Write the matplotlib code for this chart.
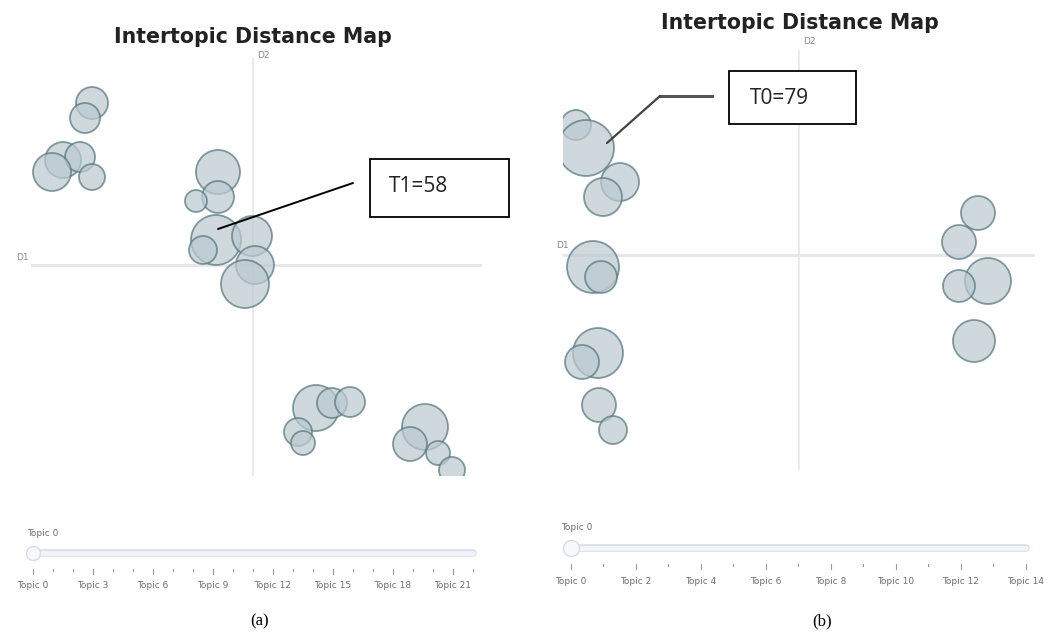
import matplotlib.pyplot as plt
from matplotlib.patches import Circle, Rectangle, ConnectionPatch

# topic positions (D1, D2) and bubble radius
a_x = [-8.05, -8.4, -9.5, -8.65, -10.05, -8.05, -1.75, -1.75, -2.85, -1.85, -0.05, -2.5,
       0.1, -0.4, 3.15, 3.95, 4.85, 2.25, 2.5, 8.6, 7.85, 9.25, 9.95]
a_y = [8.1, 7.35, 5.25, 5.4, 4.65, 4.4, 4.65, 3.4, 3.2, 1.25, 1.45, 0.75,
       0.0, -0.95, -7.15, -6.9, -6.85, -8.35, -8.9, -8.1, -8.95, -9.4, -10.25]
a_r = [0.8, 0.75, 0.9, 0.75, 0.95, 0.65, 1.1, 0.8, 0.55, 1.25, 1.0, 0.7,
       0.95, 1.2, 1.15, 0.75, 0.75, 0.7, 0.6, 1.15, 0.85, 0.6, 0.65]

b_x = [-11.15, -10.65, -8.95, -9.8, -10.3, -9.9, 8.95, 8.0, 9.45, 8.0, -10.05, -10.85, -10.0, -9.3, 8.75]
b_y = [6.5, 5.35, 3.65, 2.9, -0.6, -1.1, 2.1, 0.65, -1.3, -1.55, -4.9, -5.35, -7.5, -8.75, -4.3]
b_r = [0.75, 1.4, 0.95, 0.95, 1.3, 0.8, 0.85, 0.85, 1.15, 0.8, 1.25, 0.85, 0.85, 0.7, 1.05]

a_note, a_target = "T1=58", (-1.75, 1.8)
b_note, b_target = "T0=79", (-9.6, 5.6)

a_topics = list(range(23))
b_topics = list(range(15))

W, H = 1052, 639
fig = plt.figure(figsize=(W / 100, H / 100), dpi=100)
fig.patch.set_facecolor("white")

def px_axes(l, t, r, b):
    return fig.add_axes([l / W, 1 - b / H, (r - l) / W, (b - t) / H])

FACE, EDGE = "#BCC9D1", "#55777C"
GRID = "#E6E6E6"
LABEL = "#8a8a8a"

def bubbles(ax, xs, ys, rs, xlim, ylim):
    ax.set_xlim(*xlim)
    ax.set_ylim(*ylim)
    ax.axvline(0, color=GRID, lw=1.2, zorder=0)
    ax.axhline(0, color=GRID, lw=2, zorder=0)
    for x, y, r in zip(xs, ys, rs):
        c = Circle((x, y), r, facecolor=FACE, edgecolor=EDGE, lw=1.3, alpha=0.72)
        ax.add_patch(c)
        c.set_clip_on(True)
    ax.axis("off")

# panel (a) and (b) maps
axa = px_axes(31, 58, 482, 476)
bubbles(axa, a_x, a_y, a_r, (-11.1, 11.45), (-10.55, 10.35))
axb = px_axes(563, 50, 1035, 470)
bubbles(axb, b_x, b_y, b_r, (-11.8, 11.8), (-10.75, 10.25))

over = fig.add_axes([0, 0, 1, 1], zorder=10)
over.set_xlim(0, W)
over.set_ylim(H, 0)
over.axis("off")

# titles and axis names
for cx, cy in [(253, 37), (800, 23)]:
    over.text(cx, cy, "Intertopic Distance Map", ha="center", va="center",
              fontsize=14.8, fontweight="bold", color="#222222")
over.text(263, 55, "D2", ha="center", va="center", fontsize=6.5, color=LABEL)
over.text(22, 257, "D1", ha="center", va="center", fontsize=6.5, color=LABEL)
over.text(809, 42, "D2", ha="center", va="center", fontsize=6.5, color=LABEL)
over.text(562, 246, "D1", ha="center", va="center", fontsize=6.5, color=LABEL)

# annotation boxes
over.add_patch(Rectangle((370, 159), 139, 58, facecolor="white", edgecolor="black", lw=1.3))
over.text(389, 186, a_note, ha="left", va="center", fontsize=15, color="#222222", family="Open Sans")
fig.add_artist(ConnectionPatch(xyA=a_target, coordsA=axa.transData, xyB=(353, 183),
                               coordsB=over.transData, color="black", lw=1.4, zorder=11))

over.add_patch(Rectangle((729, 71), 127, 53, facecolor="white", edgecolor="black", lw=1.3))
over.text(750, 98, b_note, ha="left", va="center", fontsize=15, color="#222222", family="Open Sans")
fig.add_artist(ConnectionPatch(xyA=b_target, coordsA=axb.transData, xyB=(660, 96),
                               coordsB=over.transData, color="#444444", lw=1.6, zorder=11))
over.plot([660, 712], [96, 96], color="#555555", lw=2.2)

# sliders
def slider(left, right, unit, topics, step, track_y, knob_r, label_y):
    ax = px_axes(left, track_y - 30, right, track_y + 45)
    ax.set_xlim(-1, -1 + (right - left) / unit)
    ax.set_ylim(track_y + 45, track_y - 30)
    ax.axis("off")
    ax.plot([topics[0], topics[-1]], [track_y, track_y], color="#D9DFEA", lw=5.5,
            solid_capstyle="round")
    ax.plot([topics[0], topics[-1]], [track_y, track_y], color="#F1F3F8", lw=3.5,
            solid_capstyle="round")
    ax.plot(topics[0], track_y, "o", ms=knob_r * 2 * 0.72, mfc="#F6F8FC", mec="#D6DCE8", mew=1)
    ax.text(topics[0] - 0.3, label_y, "Topic 0", ha="left", va="center", fontsize=6.5,
            color="#6f6f6f")
    for t in topics:
        if t % step == 0:
            ax.plot([t, t], [track_y + 16, track_y + 21], color="#9a9a9a", lw=0.8)
            ax.text(t, track_y + 33, f"Topic {t}", ha="center", va="center", fontsize=6.5,
                    color="#6f6f6f")
        else:
            ax.plot([t, t], [track_y + 16, track_y + 18], color="#9a9a9a", lw=0.8)
    return ax

slider(13, 493, 20, a_topics, 3, 553, 7, 533)
slider(538, 1052, 32.5, b_topics, 2, 548, 8, 527)

over.text(260, 621, "(a)", ha="center", va="center", fontsize=12, family="Liberation Serif")
over.text(822, 621, "(b)", ha="center", va="center", fontsize=12, family="Liberation Serif")

fig.savefig("out.png", dpi=100, facecolor="white")
